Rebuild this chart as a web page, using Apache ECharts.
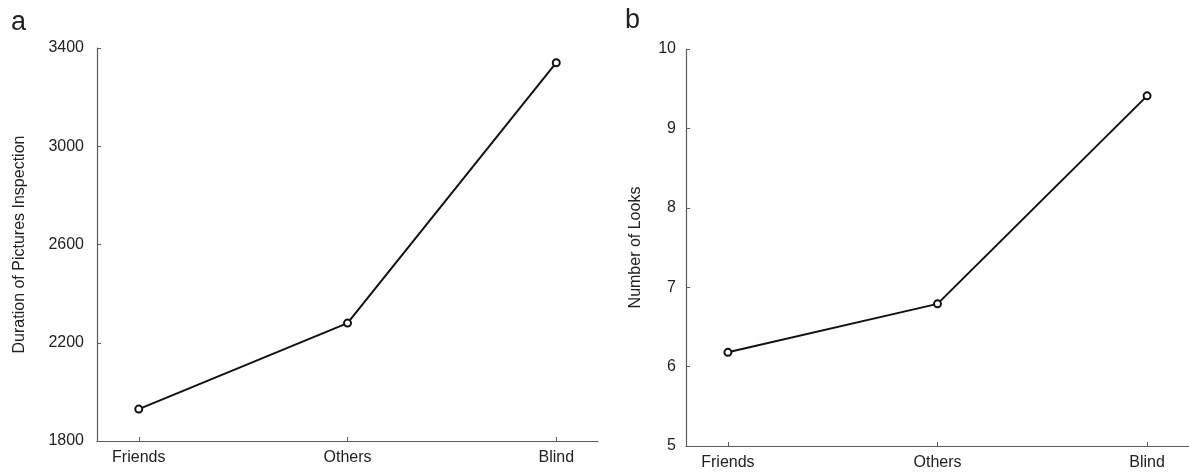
<!DOCTYPE html>
<html>
<head>
<meta charset="utf-8">
<script src="https://cdn.jsdelivr.net/npm/echarts@6/dist/echarts.min.js"></script>
<style>
  html, body { margin: 0; padding: 0; background: #fff; }
  #chart { width: 1189px; height: 473px; }
</style>
</head>
<body>
<div id="chart"></div>
<script>
var chartDom = document.getElementById('chart');
var myChart = echarts.init(chartDom);

// data
var groups = ['Friends', 'Others', 'Blind'];
var groupPos = [1, 2, 3];
var duration = [1930, 2280, 3340];
var looks = [6.18, 6.79, 9.41];
var durationTicks = [1800, 2200, 2600, 3000, 3400];
var looksTicks = [5, 6, 7, 8, 9, 10];

var font = 'Liberation Sans';
var axisGray = '#5a5a5a';

function xAxisFor(gridIndex) {
  return {
    type: 'value',
    gridIndex: gridIndex,
    min: 0.8,
    max: 3.2,
    splitLine: { show: false },
    axisLine: { onZero: false, lineStyle: { color: axisGray, width: 1.2 } },
    axisTick: { show: true, inside: true, length: 4, customValues: groupPos, lineStyle: { color: axisGray } },
    axisLabel: {
      customValues: groupPos,
      margin: 9,
      color: '#222',
      fontSize: 16,
      fontFamily: font,
      formatter: function (v) { return groups[Math.round(v) - 1]; }
    }
  };
}

function yAxisFor(gridIndex, ticks, name, gap, margin) {
  return {
    type: 'value',
    gridIndex: gridIndex,
    min: ticks[0],
    max: ticks[ticks.length - 1],
    name: name,
    nameLocation: 'middle',
    nameGap: gap,
    nameTextStyle: { color: '#222', fontSize: 16, fontFamily: font },
    splitLine: { show: false },
    axisLine: { show: true, onZero: false, lineStyle: { color: axisGray, width: 1.2 } },
    axisTick: { show: true, inside: true, length: 4, customValues: ticks, lineStyle: { color: axisGray } },
    axisLabel: {
      customValues: ticks,
      margin: margin,
      color: '#222',
      fontSize: 16,
      fontFamily: font,
      formatter: function (v) { return String(v); }
    }
  };
}

function pairs(ys) {
  return ys.map(function (y, i) { return [groupPos[i], y]; });
}

function lineSeries(idx, ys) {
  return {
    type: 'line',
    xAxisIndex: idx,
    yAxisIndex: idx,
    data: pairs(ys),
    symbol: 'emptyCircle',
    symbolSize: 7,
    lineStyle: { color: '#111', width: 2 },
    itemStyle: { color: '#111', borderColor: '#111', borderWidth: 2 },
    silent: true,
    animation: false
  };
}

var option = {
  backgroundColor: '#fff',
  animation: false,
  graphic: [
    { type: 'text', left: 11, top: 9, style: { text: 'a', fontSize: 27, fontFamily: font, fill: '#222' } },
    { type: 'text', left: 625, top: 7, style: { text: 'b', fontSize: 27, fontFamily: font, fill: '#222' } }
  ],
  grid: [
    { left: 97, top: 48, width: 501, height: 393 },
    { left: 686, top: 49, width: 505, height: 397 }
  ],
  xAxis: [xAxisFor(0), xAxisFor(1)],
  yAxis: [
    yAxisFor(0, durationTicks, 'Duration of Pictures Inspection', 69, 13),
    yAxisFor(1, looksTicks, 'Number of Looks', 42, 10)
  ],
  series: [lineSeries(0, duration), lineSeries(1, looks)]
};

myChart.setOption(option);
</script>
</body>
</html>
